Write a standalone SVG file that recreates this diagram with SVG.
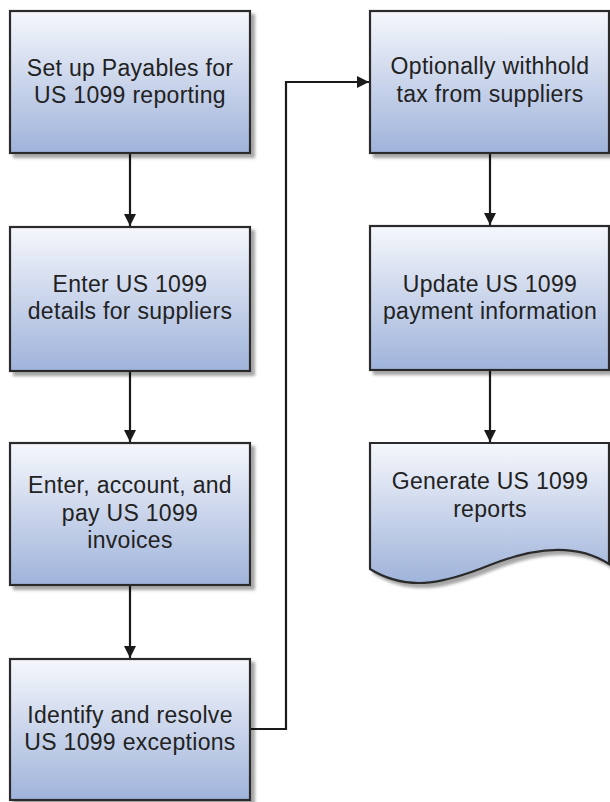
<svg xmlns="http://www.w3.org/2000/svg" width="610" height="802" viewBox="0 0 610 802">
<defs>
<linearGradient id="g" x1="0" y1="0" x2="0" y2="1">
<stop offset="0" stop-color="#f5f7fc"/>
<stop offset="1" stop-color="#9fb3da"/>
</linearGradient>
<filter id="sh" x="-10%" y="-10%" width="130%" height="130%">
<feGaussianBlur in="SourceAlpha" stdDeviation="1.5"/>
<feOffset dx="4" dy="4" result="b"/>
<feComponentTransfer><feFuncA type="linear" slope="0.35"/></feComponentTransfer>
<feMerge><feMergeNode/><feMergeNode in="SourceGraphic"/></feMerge>
</filter>
<marker id="ah" viewBox="0 0 12 12" refX="12" refY="6" markerWidth="12" markerHeight="12" markerUnits="userSpaceOnUse" orient="auto">
<path d="M0,0 L12,6 L0,12 Z" fill="#1a1a1a"/>
</marker>
</defs>
<style>
.box{fill:url(#g);stroke:#2b2b2b;stroke-width:2.2;filter:url(#sh)}
.t{font-family:"Liberation Sans",Arial,sans-serif;font-size:23px;letter-spacing:0.3px;fill:#222;text-anchor:middle}
.c{fill:none;stroke:#1a1a1a;stroke-width:2.2;marker-end:url(#ah)}
</style>
<g id="connectors">
<line class="c" x1="130" y1="153" x2="130" y2="226"/>
<line class="c" x1="130" y1="371" x2="130" y2="442"/>
<line class="c" x1="130" y1="585" x2="130" y2="658"/>
<polyline class="c" points="250,729 286,729 286,82 369,82"/>
<line class="c" x1="490" y1="153" x2="490" y2="225"/>
<line class="c" x1="490" y1="370" x2="490" y2="442"/>
</g>
<g id="n1">
<rect class="box" x="10" y="11" width="240" height="142"/>
<text class="t" x="130" y="76">Set up Payables for</text>
<text class="t" x="130" y="103">US 1099 reporting</text>
</g>
<g id="n2">
<rect class="box" x="10" y="227" width="240" height="144"/>
<text class="t" x="130" y="292">Enter US 1099</text>
<text class="t" x="130" y="319">details for suppliers</text>
</g>
<g id="n3">
<rect class="box" x="10" y="443" width="240" height="142"/>
<text class="t" x="130" y="493">Enter, account, and</text>
<text class="t" x="130" y="521">pay US 1099</text>
<text class="t" x="130" y="548">invoices</text>
</g>
<g id="n4">
<rect class="box" x="10" y="659" width="240" height="141"/>
<text class="t" x="130" y="723">Identify and resolve</text>
<text class="t" x="130" y="750">US 1099 exceptions</text>
</g>
<g id="n5">
<rect class="box" x="370" y="11" width="239" height="142"/>
<text class="t" x="490" y="74">Optionally withhold</text>
<text class="t" x="490" y="102">tax from suppliers</text>
</g>
<g id="n6">
<rect class="box" x="370" y="226" width="239" height="144"/>
<text class="t" x="490" y="292">Update US 1099</text>
<text class="t" x="490" y="319">payment information</text>
</g>
<g id="n7">
<path class="box" d="M370,443 H609 V564 C580,545 540,545 490,565 C450,581 410,594 370,569 Z"/>
<text class="t" x="490" y="489">Generate US 1099</text>
<text class="t" x="490" y="517">reports</text>
</g>
</svg>
